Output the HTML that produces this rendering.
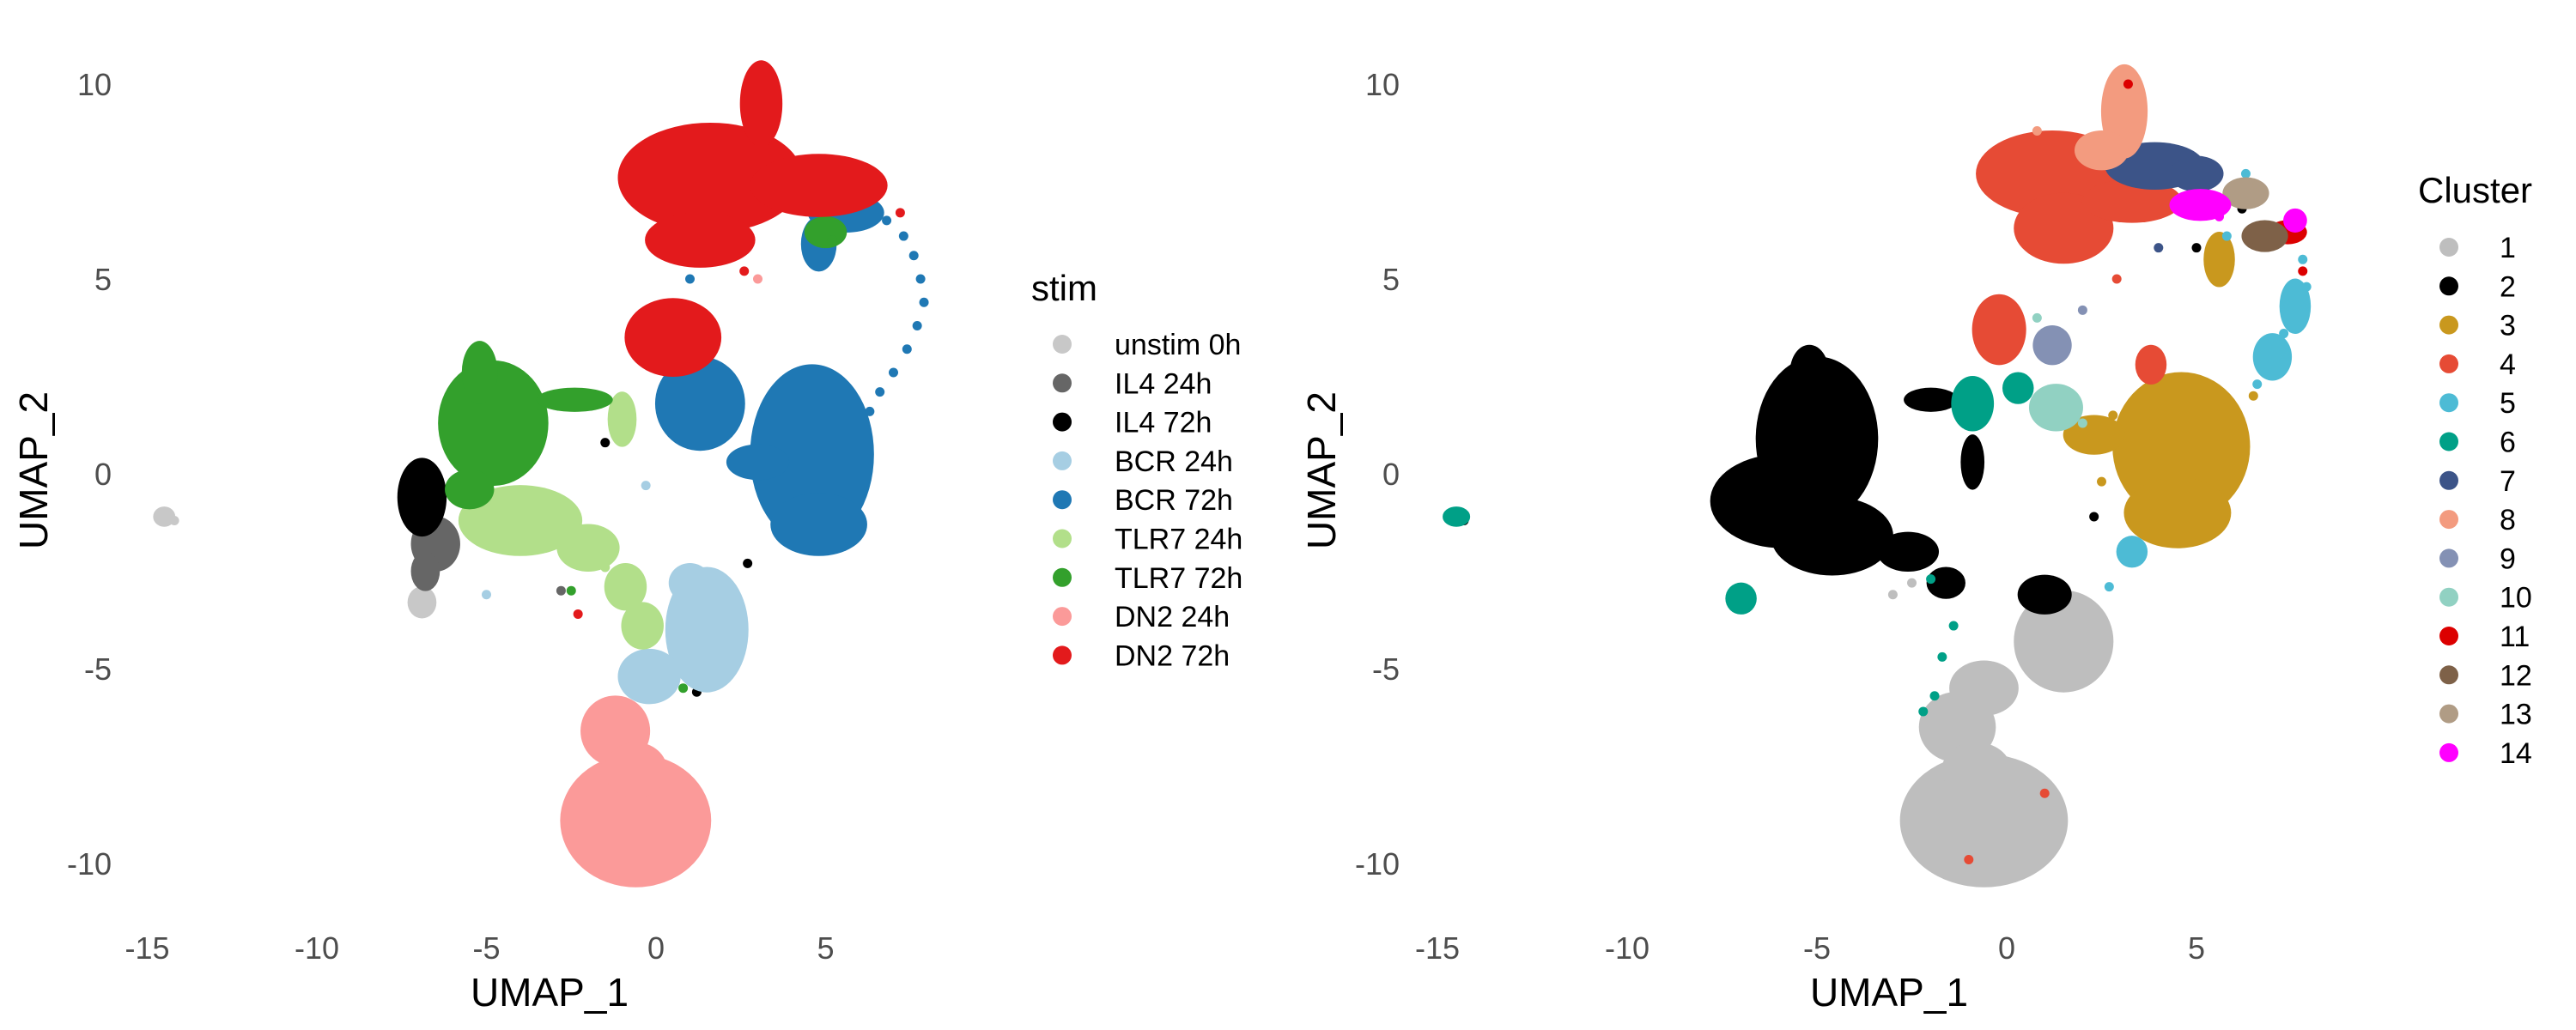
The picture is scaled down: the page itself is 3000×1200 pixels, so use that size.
<!DOCTYPE html>
<html><head><meta charset="utf-8">
<style>
html,body{margin:0;padding:0;background:#fff;}
svg{display:block;font-family:"Liberation Sans",sans-serif;}
</style></head>
<body>
<svg id="chart" width="3000" height="1200" viewBox="0 0 3000 1200">
<g id="left"></g>
<g id="right"></g>
</svg>
<script>
// ---- data (UMAP coordinates) ----
const xTicks = [-15, -10, -5, 0, 5];
const yTicks = [-10, -5, 0, 5, 10];
const stimNames = ["unstim 0h","IL4 24h","IL4 72h","BCR 24h","BCR 72h","TLR7 24h","TLR7 72h","DN2 24h","DN2 72h"];
const stimColors = ["#c8c8c8","#666666","#000000","#a6cee3","#1f78b4","#b2df8a","#33a02c","#fb9a99","#e31a1c"];
// blobs: [cx, cy, rx, ry] in data units
const stimBlobs = [
  [[-6.9,-3.3,0.3,0.3],[-14.5,-1.1,0.2,0.15]],
  [[-6.5,-1.8,0.6,0.6],[-6.8,-2.5,0.3,0.4]],
  [[-6.9,-0.6,0.6,0.9]],
  [[1.5,-4.0,1.1,1.5],[-0.2,-5.2,0.8,0.6],[1.0,-2.8,0.5,0.4]],
  [[4.6,0.5,1.7,2.2],[4.8,-1.3,1.3,0.7],[1.3,1.8,1.2,1.1],[3.0,0.3,0.8,0.35],[5.6,6.7,1.0,0.4],[4.8,5.9,0.4,0.6]],
  [[-4.0,-1.2,1.7,0.8],[-2.0,-1.9,0.8,0.5],[-0.9,-2.9,0.5,0.5],[-0.4,-3.9,0.5,0.5],[-1.0,1.4,0.3,0.6]],
  [[-4.8,1.3,1.5,1.5],[-5.2,2.6,0.4,0.7],[-2.4,1.9,1.0,0.2],[5.0,6.2,0.5,0.3],[-5.5,-0.4,0.6,0.4]],
  [[-0.6,-8.9,2.1,1.6],[-1.2,-6.6,0.9,0.8],[-0.6,-7.6,0.8,0.6]],
  [[1.6,7.6,2.6,1.3],[4.8,7.4,1.9,0.7],[3.1,9.5,0.5,1.0],[1.3,6.0,1.5,0.6],[0.5,3.5,1.3,0.9]]
];
// individual points: [x, y]
const stimPoints = [
  [[-14.2,-1.2]],
  [[-1.2,1.0],[1.7,-3.4],[-2.8,-3.0]],
  [[-1.5,0.8],[3.2,-0.3],[1.2,-5.6],[-2.2,-2.0],[2.7,-2.3]],
  [[0.5,1.4],[-0.3,-0.3],[-5.0,-3.1]],
  [[6.8,6.5],[7.3,6.1],[7.6,5.6],[7.8,5.0],[7.9,4.4],[7.7,3.8],[7.4,3.2],[7.0,2.6],[6.6,2.1],[6.3,1.6],[3.0,10.4],[1.0,5.0]],
  [[-1.5,-2.4],[-2.5,-2.0]],
  [[-2.5,-3.0],[0.8,-5.5],[5.2,6.0],[3.2,8.5]],
  [[3.0,5.0]],
  [[7.2,6.7],[2.6,5.2],[-2.3,-3.6]]
];
const clusterNames = ["1","2","3","4","5","6","7","8","9","10","11","12","13","14"];
const clusterColors = ["#bebebe","#000000","#c9981e","#e64b35","#4dbbd5","#00a087","#3c5488","#f39b7f","#8491b4","#91d1c2","#dc0000","#7e6148","#b09c85","#ff00ff"];
const clusterBlobs = [
  [[-0.6,-8.9,2.1,1.6],[-1.3,-6.5,0.9,0.8],[-0.6,-5.5,0.8,0.6],[1.5,-4.3,1.2,1.2],[-0.8,-7.6,0.8,0.6]],
  [[-5.0,0.9,1.5,2.0],[-5.9,-0.7,1.8,1.1],[-4.6,-1.6,1.5,0.9],[-5.2,2.6,0.4,0.6],[-2.6,-2.0,0.7,0.4],[-1.6,-2.8,0.4,0.3],[1.0,-3.1,0.6,0.4],[-2.0,1.9,0.6,0.2],[-0.9,0.3,0.2,0.6]],
  [[4.6,0.7,1.7,1.8],[4.5,-1.0,1.3,0.8],[2.3,1.0,0.7,0.4],[5.6,5.5,0.3,0.6]],
  [[1.2,7.7,1.9,1.0],[1.5,6.3,1.2,0.8],[3.3,7.0,1.2,0.45],[-0.2,3.7,0.6,0.8],[3.8,2.8,0.3,0.4]],
  [[7.6,4.3,0.3,0.6],[7.0,3.0,0.4,0.5],[3.3,-2.0,0.3,0.3]],
  [[-0.9,1.8,0.45,0.6],[-14.5,-1.1,0.25,0.15],[-7.0,-3.2,0.3,0.3],[0.3,2.2,0.3,0.3]],
  [[3.9,7.9,1.2,0.5],[5.0,7.7,0.6,0.35]],
  [[3.1,9.3,0.5,1.1],[2.5,8.3,0.6,0.4]],
  [[1.2,3.3,0.4,0.4]],
  [[1.3,1.7,0.6,0.5]],
  [[7.4,6.2,0.4,0.2]],
  [[6.8,6.1,0.5,0.3]],
  [[6.3,7.2,0.5,0.3]],
  [[5.1,6.9,0.7,0.3],[7.6,6.5,0.2,0.2]]
];
const clusterPoints = [
  [[-3.0,-3.1],[-2.5,-2.8]],
  [[5.5,5.6],[5.0,5.8],[6.2,6.8],[-14.3,-1.2],[2.3,-1.1]],
  [[2.5,-0.2],[6.5,2.0],[2.8,1.5]],
  [[-1.0,-9.9],[2.9,5.0],[1.0,-8.2]],
  [[7.9,4.8],[7.8,5.5],[7.3,3.6],[6.6,2.3],[6.3,7.7],[2.7,-2.9],[5.8,6.1]],
  [[-2.0,-2.7],[-1.4,-3.9],[-1.7,-4.7],[-1.9,-5.7],[-2.2,-6.1]],
  [[3.5,9.0],[4.0,5.8]],
  [[0.8,8.8]],
  [[2.0,4.2]],
  [[2.0,1.3],[0.8,4.0]],
  [[7.8,5.2],[3.2,10.0]],
  [[6.4,6.0]],
  [[6.6,7.4]],
  [[5.6,6.6]]
];

const NS = "http://www.w3.org/2000/svg";
const Y0 = 552, SY = 45.4;
function mk(tag, attrs, parent){ const e=document.createElementNS(NS,tag); for(const k in attrs) e.setAttribute(k,attrs[k]); parent.appendChild(e); return e; }

function drawPanel(g, x0, sx, names, colors, blobs, points, legendTitle, legX, legY, legTextX, titleY, yLabX, yTitleX, xTitleX){
  const X = v => x0 + v*sx;
  const Y = v => Y0 - v*SY;
  xTicks.forEach(t=>{
    const e = mk("text",{x:X(t),y:1117,"text-anchor":"middle","font-size":36,fill:"#4d4d4d"},g);
    e.textContent = t;
    
    
  });
  yTicks.forEach(t=>{
    const e = mk("text",{x:yLabX,y:Y(t)+13,"text-anchor":"end","font-size":36,fill:"#4d4d4d"},g);
    e.textContent = t;
    
    
  });
  const xt = mk("text",{x:xTitleX,y:1172,"text-anchor":"middle","font-size":46,fill:"#000"},g);
  xt.textContent = "UMAP_1";
  
  
  const yt = mk("text",{x:yTitleX,y:548,"text-anchor":"middle","font-size":46,fill:"#000",transform:`rotate(-90 ${yTitleX} 548)`},g);
  yt.textContent = "UMAP_2";
  
  
  names.forEach((n,i)=>{
    const grp = mk("g",{fill:colors[i]},g);
    
    
    blobs[i].forEach(b=>{
      const el = mk("ellipse",{cx:X(b[0]),cy:Y(b[1]),rx:b[2]*sx+5,ry:b[3]*SY+5},grp);
      
      
    });
    points[i].forEach(p=>{
      const el = mk("circle",{cx:X(p[0]),cy:Y(p[1]),r:5.5},grp);
      
      
    });
  });
  const lt = mk("text",{x:legX-36,y:titleY+14,"font-size":42,fill:"#000"},g);
  lt.textContent = legendTitle;
  
  
  names.forEach((n,i)=>{
    const ly = legY + i*45.3;
    const c = mk("circle",{cx:legX,cy:ly,r:11,fill:colors[i]},g);
    
    
    const t = mk("text",{x:legTextX,y:ly+12,"font-size":34,fill:"#000"},g);
    t.textContent = n;
    
    
  });
}
drawPanel(document.getElementById("left"), 764, 39.5, stimNames, stimColors, stimBlobs, stimPoints, "stim", 1237, 401, 1298, 336, 130, 55, 640);
drawPanel(document.getElementById("right"), 2337, 44.2, clusterNames, clusterColors, clusterBlobs, clusterPoints, "Cluster", 2852, 288, 2911, 222, 1630, 1555, 2200);
</script>
</body></html>
